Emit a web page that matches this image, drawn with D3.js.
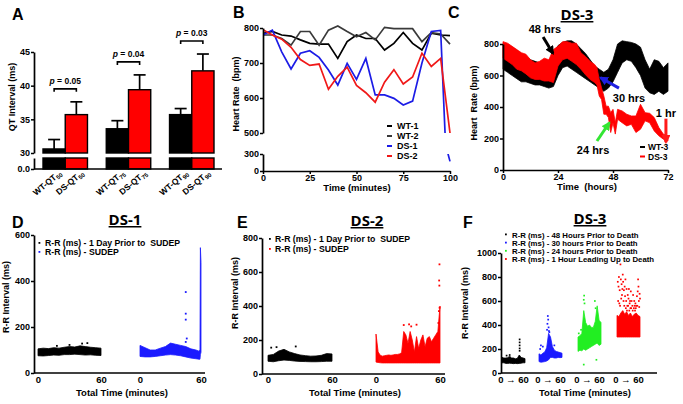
<!DOCTYPE html>
<html>
<head>
<meta charset="utf-8">
<script src="https://cdn.jsdelivr.net/npm/d3@7"></script>
<style>
body { margin: 0; background: #fff; }
svg { display: block; font-family: "Liberation Sans", Arial, sans-serif; font-weight: bold; }
</style>
</head>
<body>
<svg id="fig" width="683" height="404"></svg>
<script>
/* ---------- Panel A : QT interval bars ---------- */
const qtLabels = ["50", "75", "90"];
const wtMean = [30.6, 33.6, 35.7];
const wtSem = [1.4, 1.2, 0.9];
const dsMean = [35.7, 39.4, 42.2];
const dsSem = [1.9, 2.2, 2.5];
const pVals = ["0.05", "0.04", "0.03"];

/* ---------- Panel B : heart rate, minutes ---------- */
const minutesB = [0, 5, 10, 15, 20, 25, 30, 35, 40, 45, 50, 55, 60, 65, 70, 75, 80, 85, 90, 95, 100];
const wt1 = [785, 790, 780, 777, 766, 756, 754, 754, 713, 761, 780, 770, 770, 737, 756, 787, 756, 737, 785, 780, 778];
const wt2 = [780, 780, 770, 751, 790, 790, 751, 794, 806, 790, 775, 787, 766, 802, 798, 798, 798, 761, 787, 783, 754];
const ds1 = [780, 794, 732, 683, 728, 735, 716, 680, 637, 699, 653, 713, 609, 609, 599, 580, 591, 700, 790, 793, 170];
const ds2 = [795, 780, 768, 745, 710, 693, 697, 625, 662, 688, 636, 615, 588, 645, 681, 640, 660, 728, 690, 713, 500];

/* ---------- Panel C : DS-3 heart rate, hours (noisy band lo/hi) ---------- */
const wt3Hours = [0, 2, 4, 6, 8, 10, 12, 14, 16, 18, 20, 22, 24, 26, 28, 30, 32, 34, 36, 38, 40, 42, 44, 46, 48, 50, 52, 54, 56, 58, 60, 62, 64, 66, 68, 70, 72];
const wt3Lo = [640, 620, 600, 580, 560, 560, 550, 540, 540, 530, 520, 530, 600, 650, 660, 640, 620, 600, 580, 560, 540, 520, 500, 520, 560, 620, 680, 700, 690, 650, 600, 520, 490, 480, 500, 480, 500];
const wt3Hi = [800, 790, 780, 760, 740, 720, 700, 690, 680, 680, 690, 740, 790, 810, 820, 820, 800, 770, 740, 700, 660, 640, 620, 640, 700, 800, 820, 815, 810, 800, 780, 700, 640, 700, 690, 650, 680];
const ds3Hours = [0, 2, 4, 6, 8, 10, 12, 14, 16, 18, 20, 22, 24, 26, 28, 30, 32, 34, 36, 38, 40, 41, 42, 43, 44, 45, 46, 47, 48, 49, 50, 52, 54, 56, 58, 60, 62, 64, 66, 68, 70, 72];
const ds3Lo = [710, 690, 670, 640, 630, 610, 585, 575, 575, 565, 565, 555, 660, 700, 710, 690, 670, 640, 605, 575, 555, 540, 470, 448, 354, 354, 333, 238, 300, 228, 322, 300, 280, 290, 238, 259, 312, 300, 248, 217, 196, 185];
const ds3Hi = [815, 805, 785, 765, 745, 735, 700, 680, 690, 710, 700, 765, 785, 815, 815, 805, 805, 745, 720, 690, 670, 650, 575, 522, 470, 405, 405, 364, 385, 300, 385, 375, 354, 343, 343, 417, 364, 360, 333, 270, 227, 217];
// annotation arrows: [hour, bpm] tail -> tip, label anchor
const arrowNames = ["48 hrs", "30 hrs", "24 hrs", "1 hr"];
const arrowColors = ["#000000", "#1f1fe0", "#33e633", "#ff1a1a"];
const arrowFrom = [[17.5, 845], [50.6, 520], [41, 184], [71.1, 326]];
const arrowTo = [[21.8, 740], [42.6, 586], [46.4, 300], [71.1, 176]];
const arrowText = [[18.3, 870], [55, 430], [39.3, 100], [71.1, 338]];

/* ---------- Panel D : DS-1 R-R ---------- */
const dT = [0, 5, 10, 15, 20, 25, 30, 35, 40, 45, 50, 55, 60];
const d1PreLo = [75, 74, 76, 78, 77, 80, 80, 82, 80, 78, 79, 77, 76];
const d1PreHi = [105, 108, 106, 110, 108, 112, 115, 113, 118, 115, 112, 110, 108];
const d1PreOut = [[18, 118], [30, 122], [42, 128], [47, 130]];
const d1SudT = [0, 5, 10, 15, 20, 25, 30, 35, 40, 45, 50, 55, 58, 59, 59.4, 60];
const d1SudLo = [72, 70, 70, 72, 75, 78, 80, 78, 75, 70, 65, 62, 60, 60, 80, 90];
const d1SudHi = [120, 110, 100, 100, 108, 115, 130, 125, 120, 115, 105, 100, 95, 100, 545, 480];
const d1SudOut = [[45, 352], [45, 258], [45, 232], [45, 135], [46, 150]];

/* ---------- Panel E : DS-2 R-R ---------- */
const e2PreLo = [75, 72, 78, 82, 80, 76, 74, 73, 72, 72, 73, 75, 75];
const e2PreHi = [110, 115, 135, 145, 130, 120, 112, 108, 105, 106, 110, 120, 118];
const e2PreOut = [[3, 155], [8, 158], [26, 162]];
const e2SudT = [0, 2, 4, 6, 8, 10, 12, 14, 16, 18, 20, 22, 24, 26, 28, 30, 32, 34, 36, 38, 40, 42, 44, 46, 48, 50, 52, 54, 56, 58, 60];
const e2SudLo = [70, 68, 66, 65, 65, 65, 65, 65, 65, 65, 65, 65, 65, 65, 65, 65, 65, 65, 65, 65, 65, 65, 65, 65, 65, 65, 65, 65, 65, 65, 65];
const e2SudHi = [235, 130, 110, 105, 108, 110, 112, 110, 112, 115, 115, 118, 125, 250, 230, 180, 250, 200, 130, 220, 150, 200, 230, 160, 210, 220, 190, 210, 230, 250, 400];
const e2SudOut = [[26, 288], [31, 292], [33, 280], [38, 290], [59.5, 645], [59.2, 550], [59.4, 520], [59.6, 390], [59, 370], [58.5, 300]];

/* ---------- Panel F : DS-3 R-R ---------- */
const fT = [0, 5, 10, 15, 20, 25, 30, 35, 40, 45, 50, 55, 60];
const f48Lo = [85, 85, 80, 80, 82, 80, 78, 80, 78, 80, 82, 85, 85];
const f48Hi = [130, 125, 125, 128, 140, 125, 125, 118, 122, 150, 130, 125, 120];
const f48Out = [[46, 280], [46, 255], [46, 230], [46, 205], [46, 185], [20, 150], [12, 145]];
const f30Lo = [95, 90, 92, 95, 100, 110, 130, 130, 125, 125, 130, 128, 130];
const f30Hi = [160, 150, 165, 175, 210, 330, 300, 220, 190, 180, 175, 170, 165];
const f30Out = [[23, 475], [24, 445], [22, 410], [25, 380], [21, 360], [26, 350], [27, 340], [5, 230], [10, 220], [3, 200], [40, 230]];
const f24Lo = [180, 190, 185, 200, 190, 200, 210, 220, 230, 240, 250, 230, 240];
const f24Hi = [300, 310, 330, 520, 420, 390, 400, 380, 380, 430, 560, 440, 420];
const f24Out = [[16, 645], [15, 610], [17, 580], [15, 70], [48, 110], [44, 600], [46, 540], [2, 330], [8, 360]];
const f1Lo = [300, 300, 300, 300, 300, 300, 300, 300, 300, 300, 300, 300, 300];
const f1Hi = [480, 470, 500, 520, 490, 510, 480, 500, 470, 490, 500, 480, 470];
const f1Out = [[2, 760], [4, 720], [5, 800], [7, 690], [9, 905], [10, 780], [12, 740], [13, 650], [14, 700], [15, 820],
  [16, 760], [17, 600], [18, 690], [20, 720], [21, 640], [22, 780], [24, 600], [25, 700], [27, 560], [28, 650],
  [30, 620], [31, 700], [33, 580], [35, 540], [36, 680], [38, 600], [40, 560], [42, 650], [44, 540], [45, 600],
  [47, 520], [48, 580], [50, 560], [52, 640], [54, 680], [55, 780], [56, 720], [57, 600], [58, 550], [59, 660],
  [60, 620], [3, 600], [6, 580], [8, 560], [11, 620], [19, 560], [23, 540], [26, 520], [29, 560], [32, 520],
  [34, 600], [37, 540], [41, 520], [46, 560], [49, 540], [53, 560]];

const svg = d3.select("#fig");
svg.append("rect").attr("width", 683).attr("height", 404).attr("fill", "#fff");

/* --- helpers --- */
function fixAxis(g, size) {
  g.attr("font-family", null).attr("font-size", null);
  g.select(".domain").attr("stroke-width", 1.7);
  g.selectAll(".tick line").attr("stroke-width", 1.5);
  g.selectAll(".tick text").attr("font-size", size || 9).attr("font-weight", "bold").attr("fill", "#000");
}
function letter(x, y, s) {
  svg.append("text").attr("x", x).attr("y", y).attr("font-size", 16).text(s);
}
function title(x, y, s) {
  svg.append("text").attr("x", x).attr("y", y).attr("font-size", 15)
    .attr("text-anchor", "middle").attr("text-decoration", "underline")
    .attr("font-family", "'Open Sans', 'Liberation Sans', sans-serif").text(s);
}
function yLabel(x, y, s) {
  svg.append("text").attr("transform", `translate(${x},${y}) rotate(-90)`)
    .attr("text-anchor", "middle").attr("font-size", 9).style("white-space", "pre").text(s);
}
function xLabel(x, y, s) {
  svg.append("text").attr("x", x).attr("y", y).attr("text-anchor", "middle").attr("font-size", 9.5)
    .style("white-space", "pre").text(s);
}
function band(g, xs, ys, t, lo, hi, color) {
  const rows = t.map((d, i) => ({ t: d, lo: lo[i], hi: hi[i] }));
  g.append("path").datum(rows)
    .attr("fill", color).attr("stroke", color).attr("stroke-width", 0.8)
    .attr("d", d3.area().x(d => xs(d.t)).y0(d => ys(d.lo)).y1(d => ys(d.hi)));
}
function dots(g, xs, ys, pts, color, s) {
  s = s || 1.8;
  g.selectAll(null).data(pts).join("rect")
    .attr("x", d => xs(d[0]) - s / 2).attr("y", d => ys(d[1]) - s / 2)
    .attr("width", s).attr("height", s).attr("fill", color);
}
function hline(g, x1, x2, y) {
  g.append("line").attr("x1", x1).attr("x2", x2).attr("y1", y).attr("y2", y)
    .attr("stroke", "#000").attr("stroke-width", 1.7);
}

/* ================= Panel A ================= */
(function () {
  const g = svg.append("g");
  letter(12, 20, "A");
  const yA = d3.scaleLinear().domain([30, 45]).range([153, 52]);
  const yA0 = d3.scaleLinear().domain([0, 3]).range([169, 158]);
  const xA = d3.scaleBand().domain(qtLabels).range([43, 214]).paddingInner(0.297);
  const xSub = d3.scaleBand().domain(["WT", "DS"]).range([0, xA.bandwidth()]);

  const bars = [];
  qtLabels.forEach((q, i) => {
    bars.push({ q, k: "WT", m: wtMean[i], s: wtSem[i], c: "#000" });
    bars.push({ q, k: "DS", m: dsMean[i], s: dsSem[i], c: "#ff0000" });
  });
  const bx = d => xA(d.q) + xSub(d.k);
  // error bars (behind upper bars)
  bars.forEach(d => {
    const cx = bx(d) + xSub.bandwidth() / 2;
    g.append("line").attr("x1", cx).attr("x2", cx).attr("y1", yA(d.m)).attr("y2", yA(d.m + d.s))
      .attr("stroke", "#000").attr("stroke-width", 1.7);
    g.append("line").attr("x1", cx - 6).attr("x2", cx + 6).attr("y1", yA(d.m + d.s)).attr("y2", yA(d.m + d.s))
      .attr("stroke", "#000").attr("stroke-width", 1.7);
  });
  g.selectAll(".up").data(bars).join("rect")
    .attr("x", bx).attr("width", xSub.bandwidth())
    .attr("y", d => yA(d.m)).attr("height", d => yA(30) - yA(d.m))
    .attr("fill", d => d.c).attr("stroke", "#000").attr("stroke-width", 1.4);
  g.selectAll(".lo").data(bars).join("rect")
    .attr("x", bx).attr("width", xSub.bandwidth())
    .attr("y", yA0(3)).attr("height", yA0(0) - yA0(3))
    .attr("fill", d => d.c).attr("stroke", "#000").attr("stroke-width", 1.4);

  const ax1 = g.append("g").attr("transform", "translate(34,0)")
    .call(d3.axisLeft(yA).tickValues([30, 35, 40, 45]).tickSize(3).tickSizeOuter(0).tickPadding(1));
  fixAxis(ax1);
  const ax0 = g.append("g").attr("transform", "translate(34,0)")
    .call(d3.axisLeft(yA0).tickValues([0]).tickSize(3).tickSizeOuter(0).tickPadding(1));
  fixAxis(ax0);
  hline(g, 34, 222, yA0(0));
  yLabel(15, 97, "QT Interval (ms)");

  // rotated category labels
  bars.forEach(d => {
    const cx = bx(d) + xSub.bandwidth() / 2;
    const t = g.append("text").attr("text-anchor", "end").attr("font-size", 8.5)
      .attr("transform", `translate(${cx + 8},${yA0(0) + 5}) rotate(-40)`);
    t.append("tspan").text(d.k + "-QT");
    t.append("tspan").attr("font-size", 6).attr("dy", 2).text(d.q);
  });

  // significance brackets
  qtLabels.forEach((q, i) => {
    const x1 = xA(q) + xSub("WT") + xSub.bandwidth() / 2;
    const x2 = xA(q) + xSub("DS") + xSub.bandwidth() / 2;
    const y = yA(dsMean[i] + dsSem[i]) - 13;
    g.append("path").attr("d", `M${x1},${y + 3}V${y}H${x2}V${y + 3}`)
      .attr("fill", "none").attr("stroke", "#000").attr("stroke-width", 1.6);
    const t = g.append("text").attr("x", (x1 + x2) / 2).attr("y", y - 5)
      .attr("text-anchor", "middle").attr("font-size", 8.5);
    t.append("tspan").attr("font-style", "italic").text("p");
    t.append("tspan").text(" = " + pVals[i]);
  });
})();

/* ================= Panel B ================= */
(function () {
  const g = svg.append("g");
  letter(233, 18, "B");
  const xB = d3.scaleLinear().domain([0, 100]).range([263, 450]);
  const yU = d3.scaleLinear().domain([500, 800]).range([133, 28]);
  const yL = d3.scaleLinear().domain([0, 300]).range([171, 154]);
  const defs = svg.append("defs");
  defs.append("clipPath").attr("id", "clipBU").append("rect").attr("x", 263).attr("y", 15).attr("width", 195).attr("height", 118);
  defs.append("clipPath").attr("id", "clipBL").append("rect").attr("x", 263).attr("y", 154).attr("width", 195).attr("height", 17);

  const series = [
    { name: "WT-1", v: wt1, c: "#000000" },
    { name: "WT-2", v: wt2, c: "#3a3a3a" },
    { name: "DS-1", v: ds1, c: "#1c1ce6" },
    { name: "DS-2", v: ds2, c: "#f01818" }
  ];
  [[yU, "clipBU"], [yL, "clipBL"]].forEach(([ys, clip]) => {
    const line = d3.line().x((d, i) => xB(minutesB[i])).y(d => ys(d));
    g.append("g").attr("clip-path", `url(#${clip})`).selectAll("path").data(series).join("path")
      .attr("d", d => line(d.v)).attr("fill", "none").attr("stroke", d => d.c).attr("stroke-width", 1.7);
  });

  const au = g.append("g").attr("transform", "translate(263,0)")
    .call(d3.axisLeft(yU).tickValues([500, 600, 700, 800]).tickSize(3).tickSizeOuter(0).tickPadding(1));
  fixAxis(au);
  const al = g.append("g").attr("transform", "translate(263,0)")
    .call(d3.axisLeft(yL).tickValues([0, 300]).tickSize(3).tickSizeOuter(0).tickPadding(1));
  fixAxis(al);
  const ab = g.append("g").attr("transform", "translate(0,171)")
    .call(d3.axisBottom(xB).tickValues([0, 25, 50, 75, 100]).tickSize(3).tickSizeOuter(0).tickPadding(1));
  fixAxis(ab);
  yLabel(239, 94, "Heart Rate  (bpm)");
  xLabel(357, 191, "Time (minutes)");

  series.forEach((s, i) => {
    const y = 129 + i * 10;
    g.append("line").attr("x1", 387).attr("x2", 392).attr("y1", y - 3).attr("y2", y - 3)
      .attr("stroke", s.c).attr("stroke-width", 2);
    g.append("text").attr("x", 397).attr("y", y).attr("font-size", 9).text(s.name);
  });
})();

/* ================= Panel C ================= */
(function () {
  const g = svg.append("g");
  letter(448, 18, "C");
  title(577, 20, "DS-3");
  const xC = d3.scaleLinear().domain([0, 72]).range([503, 668]);
  const yC = d3.scaleLinear().domain([0, 800]).range([170, 44]);
  band(g, xC, yC, wt3Hours, wt3Lo, wt3Hi, "#000");
  band(g, xC, yC, ds3Hours, ds3Lo, ds3Hi, "#ff0000");

  const al = g.append("g").attr("transform", "translate(503,0)")
    .call(d3.axisLeft(yC).tickValues([0, 200, 400, 600, 800]).tickSize(3).tickSizeOuter(0).tickPadding(1));
  fixAxis(al);
  const ab = g.append("g").attr("transform", "translate(0,170)")
    .call(d3.axisBottom(xC).tickValues([0, 24, 48, 72]).tickSize(3).tickSizeOuter(0).tickPadding(1));
  fixAxis(ab);
  yLabel(477, 103, "Heart  Rate (bpm)");
  xLabel(587, 190, "Time  (hours)");

  const defs = svg.append("defs");
  arrowColors.forEach((c, i) => {
    defs.append("marker").attr("id", "ah" + i).attr("viewBox", "0 0 10 10")
      .attr("refX", 8).attr("refY", 5).attr("markerWidth", 9).attr("markerHeight", 9)
      .attr("markerUnits", "userSpaceOnUse").attr("orient", "auto")
      .append("path").attr("d", "M0,0L10,5L0,10Z").attr("fill", c);
  });
  arrowNames.forEach((n, i) => {
    g.append("line")
      .attr("x1", xC(arrowFrom[i][0])).attr("y1", yC(arrowFrom[i][1]))
      .attr("x2", xC(arrowTo[i][0])).attr("y2", yC(arrowTo[i][1]))
      .attr("stroke", arrowColors[i]).attr("stroke-width", 3).attr("marker-end", `url(#ah${i})`);
    g.append("text").attr("x", xC(arrowText[i][0])).attr("y", yC(arrowText[i][1]))
      .attr("text-anchor", "middle").attr("font-size", 11).text(n);
  });

  [["WT-3", "#000"], ["DS-3", "#ff0000"]].forEach((d, i) => {
    const y = 150 + i * 9.5;
    g.append("line").attr("x1", 640).attr("x2", 645).attr("y1", y - 3).attr("y2", y - 3)
      .attr("stroke", d[1]).attr("stroke-width", 2);
    g.append("text").attr("x", 648).attr("y", y).attr("font-size", 8.5).text(d[0]);
  });
})();

/* ================= Panel D ================= */
(function () {
  const g = svg.append("g");
  letter(12, 228, "D");
  title(125, 225, "DS-1");
  const y = d3.scaleLinear().domain([0, 600]).range([373, 235]);
  const x1 = d3.scaleLinear().domain([0, 60]).range([38, 101]);
  const x2 = d3.scaleLinear().domain([0, 60]).range([140, 201]);
  band(g, x1, y, dT, d1PreLo, d1PreHi, "#000");
  dots(g, x1, y, d1PreOut, "#000");
  band(g, x2, y, d1SudT, d1SudLo, d1SudHi, "#1a1aff");
  dots(g, x2, y, d1SudOut, "#1a1aff");
  const al = g.append("g").attr("transform", "translate(34,0)")
    .call(d3.axisLeft(y).tickValues([0, 200, 400, 600]).tickSize(3).tickSizeOuter(0).tickPadding(1));
  fixAxis(al);
  hline(g, 34, 205, 373);
  [x1, x2].forEach(xs => {
    const a = g.append("g").attr("transform", "translate(0,373)")
      .call(d3.axisBottom(xs).tickValues([0, 60]).tickSize(0).tickPadding(3));
    a.select(".domain").remove();
    fixAxis(a, 9.5);
  });
  yLabel(9, 297, "R-R Interval (ms)");
  xLabel(122, 396, "Total Time (minutes)");
  [["R-R (ms) - 1 Day Prior to  SUDEP", "#000"], ["R-R (ms) - SUDEP", "#1a1aff"]].forEach((d, i) => {
    const yy = 246 + i * 9;
    g.append("rect").attr("x", 38.5).attr("y", yy - 4).attr("width", 1.8).attr("height", 1.8).attr("fill", d[1]);
    g.append("text").attr("x", 45).attr("y", yy).attr("font-size", 8.7).style("white-space", "pre").text(d[0]);
  });
})();

/* ================= Panel E ================= */
(function () {
  const g = svg.append("g");
  letter(237, 228, "E");
  title(367, 226, "DS-2");
  const y = d3.scaleLinear().domain([0, 800]).range([374, 238]);
  const x1 = d3.scaleLinear().domain([0, 60]).range([268, 332]);
  const x2 = d3.scaleLinear().domain([0, 60]).range([376, 440]);
  band(g, x1, y, dT, e2PreLo, e2PreHi, "#000");
  dots(g, x1, y, e2PreOut, "#000");
  band(g, x2, y, e2SudT, e2SudLo, e2SudHi, "#ff0000");
  dots(g, x2, y, e2SudOut, "#ff0000");
  const al = g.append("g").attr("transform", "translate(262,0)")
    .call(d3.axisLeft(y).tickValues([0, 200, 400, 600, 800]).tickSize(3).tickSizeOuter(0).tickPadding(1));
  fixAxis(al);
  hline(g, 262, 445, 374);
  [x1, x2].forEach(xs => {
    const a = g.append("g").attr("transform", "translate(0,374)")
      .call(d3.axisBottom(xs).tickValues([0, 60]).tickSize(0).tickPadding(2));
    a.select(".domain").remove();
    fixAxis(a, 9.5);
  });
  yLabel(238, 293, "R-R Interval (ms)");
  xLabel(355, 396, "Total Time (minutes)");
  [["R-R (ms) - 1 Day Prior to  SUDEP", "#000"], ["R-R (ms) - SUDEP", "#ff0000"]].forEach((d, i) => {
    const yy = 242 + i * 10;
    g.append("rect").attr("x", 269).attr("y", yy - 4).attr("width", 1.8).attr("height", 1.8).attr("fill", d[1]);
    g.append("text").attr("x", 275).attr("y", yy).attr("font-size", 8.7).style("white-space", "pre").text(d[0]);
  });
})();

/* ================= Panel F ================= */
(function () {
  const g = svg.append("g");
  letter(463, 228, "F");
  title(590, 224, "DS-3");
  const y = d3.scaleLinear().domain([0, 1000]).range([373, 253]);
  const groups = [
    { r: [502, 525], lo: f48Lo, hi: f48Hi, out: f48Out, c: "#000" },
    { r: [539, 562], lo: f30Lo, hi: f30Hi, out: f30Out, c: "#1a1aff" },
    { r: [578, 601], lo: f24Lo, hi: f24Hi, out: f24Out, c: "#22ee22" },
    { r: [617, 640], lo: f1Lo, hi: f1Hi, out: f1Out, c: "#ff0000" }
  ];
  groups.forEach(gr => {
    const xs = d3.scaleLinear().domain([0, 60]).range(gr.r);
    band(g, xs, y, fT, gr.lo, gr.hi, gr.c);
    dots(g, xs, y, gr.out, gr.c, 1.7);
    g.append("text").attr("x", (gr.r[0] + gr.r[1]) / 2).attr("y", 383)
      .attr("text-anchor", "middle").attr("font-size", 9.5).text("0 \u2192 60");
  });
  const al = g.append("g").attr("transform", "translate(501,0)")
    .call(d3.axisLeft(y).tickValues([0, 200, 400, 600, 800, 1000]).tickFormat(d3.format("d"))
      .tickSize(3).tickSizeOuter(0).tickPadding(1));
  fixAxis(al);
  hline(g, 501, 657, 373);
  yLabel(468, 303, "R-R Interval (ms)");
  xLabel(585, 396, "Total Time (minutes)");

  svg.append("defs").append("clipPath").attr("id", "clipF").append("rect")
    .attr("x", 500).attr("y", 225).attr("width", 175).attr("height", 45);
  const leg = g.append("g").attr("clip-path", "url(#clipF)");
  const names = ["R-R (ms) - 48 Hours Prior to Death", "R-R (ms) - 30 hours Prior to Death",
    "R-R (ms) - 24 hours Prior to Death", "R-R (ms) - 1 Hour Leading Up to Death"];
  names.forEach((n, i) => {
    const yy = 237.5 + i * 8.2;
    leg.append("rect").attr("x", 505).attr("y", yy - 4).attr("width", 1.8).attr("height", 1.8).attr("fill", groups[i].c);
    leg.append("text").attr("x", 512).attr("y", yy).attr("font-size", 7.8).text(n);
  });
})();
</script>
</body>
</html>
